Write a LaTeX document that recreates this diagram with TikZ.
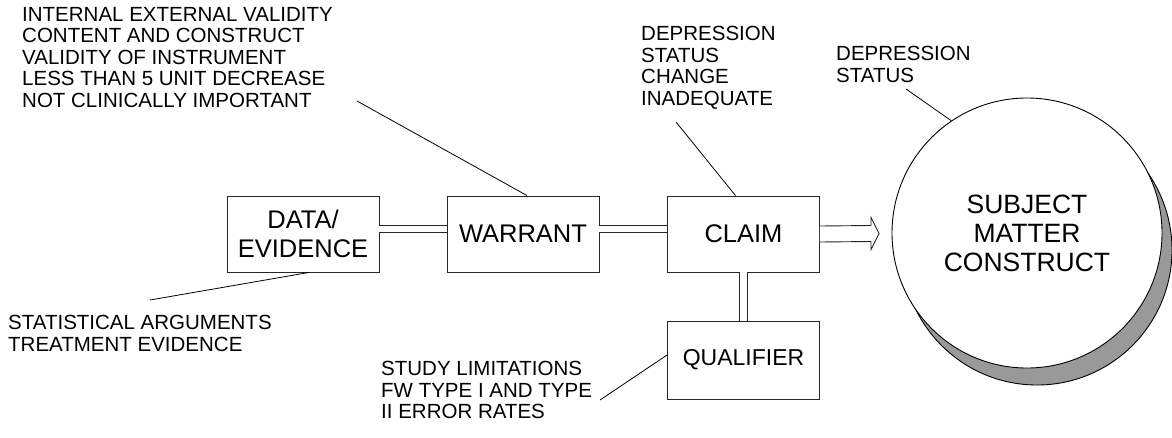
\documentclass[tikz,border=0pt]{standalone}
\usepackage{fontspec}
\setmainfont{Liberation Sans}
\usetikzlibrary{calc,shadows}

\begin{document}
\begin{tikzpicture}[x=1pt, y=-1pt,
  box/.style={rectangle, draw=black!85, line width=0.9pt, minimum width=152pt, minimum height=76pt, align=center, font=\fontsize{25.5}{29}\selectfont},
  note/.style={anchor=north west, align=left, inner sep=0pt, font=\fontsize{20.5}{21.5}\selectfont},
  link/.style={draw=black!85, double, double distance=6.5pt, line width=0.9pt},
  pointer/.style={draw=black, line width=0.8pt}]
  \useasboundingbox (0,0) rectangle (1172,437);

  % Define boxes
  \node[box] (data) at (303,234) {DATA/\\EVIDENCE};
  \node[box] (warrant) at (523,234) {WARRANT};
  \node[box] (claim) at (743.5,234) {CLAIM};
  \node[box, minimum height=78pt, font=\fontsize{23}{27}\selectfont] (qualifier) at (743.5,360) {QUALIFIER};

  % Define construct circle
  \node[circle, draw=black, line width=0.9pt, fill=white, minimum size=270pt, align=center,
    font=\fontsize{26.5}{29}\selectfont,
    drop shadow={shadow xshift=10pt, shadow yshift=-17pt, opacity=1, fill=black!40, draw=black, line width=0.9pt}]
    (construct) at (1027,233) {SUBJECT\\MATTER\\CONSTRUCT};

  % Draw links
  \draw[link] ([yshift=5pt]data.east) -- ([yshift=5pt]warrant.west);
  \draw[link] ([yshift=5pt]warrant.east) -- ([yshift=5pt]claim.west);
  \draw[link] (claim.south) -- (qualifier.north);
  \coordinate (tip) at (879,233.5);
  \draw[draw=black!85, line width=0.9pt, fill=white]
    ($(claim.east)+(0,-8)$) -- ($(tip)+(-8,-8)$) -- ($(tip)+(-8,-16)$) -- (tip)
    -- ($(tip)+(-8,16)$) -- ($(tip)+(-8,8)$) -- ($(claim.east)+(0,8)$);

  % Add notes
  \node[note] (validity) at (22,7) {INTERNAL EXTERNAL VALIDITY\\CONTENT AND CONSTRUCT\\VALIDITY OF INSTRUMENT\\LESS THAN 5 UNIT DECREASE\\NOT CLINICALLY IMPORTANT};
  \node[note] (change) at (641,26) {DEPRESSION\\STATUS\\CHANGE\\INADEQUATE};
  \node[note] (status) at (836,46) {DEPRESSION\\STATUS};
  \node[note] (arguments) at (8,315) {STATISTICAL ARGUMENTS\\TREATMENT EVIDENCE};
  \node[note] (limits) at (381,361) {STUDY LIMITATIONS\\FW TYPE I AND TYPE\\II ERROR RATES};

  % Draw pointers
  \coordinate (p1) at (357,101);
  \coordinate (p2) at (676,122);
  \coordinate (p3) at (906,89);
  \coordinate (p4) at (150,300);
  \coordinate (p5) at (600,400);
  \draw[pointer] (p1) -- ([xshift=4pt]warrant.north);
  \draw[pointer] (p2) -- ([xshift=-8pt]claim.north);
  \draw[pointer] (p3) -- (construct.124);
  \draw[pointer] (p4) -- ([xshift=6pt]data.south);
  \draw[pointer] (p5) -- ([yshift=5pt]qualifier.west);
\end{tikzpicture}
\end{document}
